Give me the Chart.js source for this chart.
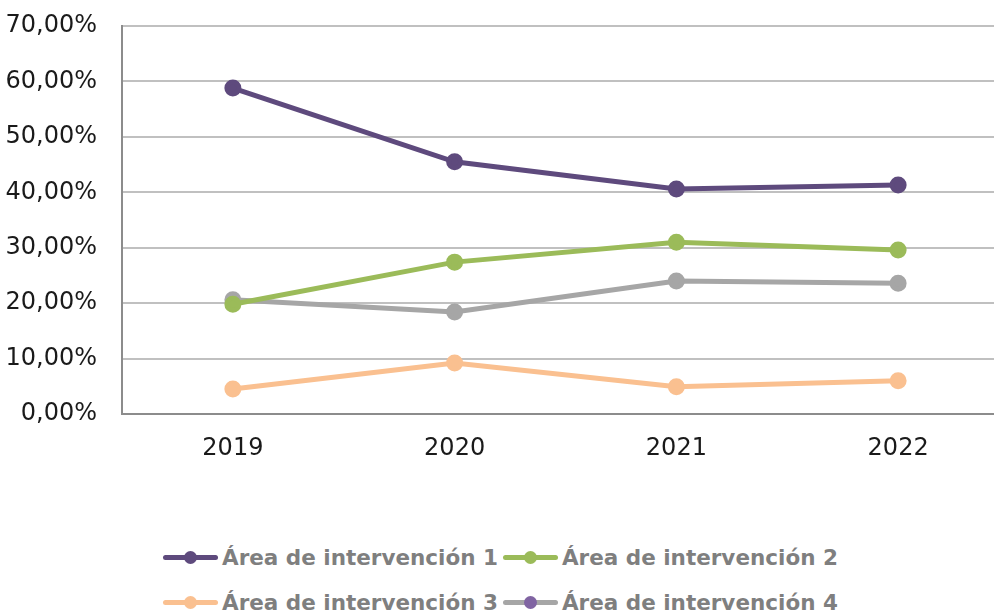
<!DOCTYPE html>
<html>
<head>
<meta charset="utf-8">
<script src="https://cdn.jsdelivr.net/npm/chart.js@4.4.0/dist/chart.umd.min.js"></script>
<style>
  html, body { margin: 0; padding: 0; background: #fff; overflow: hidden; width: 994px; height: 614px; }
  #wrap { position: absolute; left: 0; top: 0; width: 1020px; height: 470px; }
  #legend { position: absolute; left: 163px; top: 535px; width: 720px; display: flex; flex-wrap: wrap;
    font-family: "DejaVu Sans", sans-serif; font-weight: bold; font-size: 21.5px; color: #7f7f7f; }
  .item { display: flex; align-items: center; height: 45px; margin-right: 5px; white-space: nowrap; }
  .sw { position: relative; width: 55px; height: 13px; margin-right: 4px; }
  .sw .ln { position: absolute; left: 0; right: 0; top: 4px; height: 5px; border-radius: 3px; }
  .sw .dt { position: absolute; left: 21px; top: 0; width: 13px; height: 13px; border-radius: 50%; }
</style>
</head>
<body>
<div id="wrap"><canvas id="lineChart" width="1020" height="470"></canvas></div>
<div id="legend"></div>
<script>
var years = ["2019", "2020", "2021", "2022"];
var seriesNames = ["Área de intervención 1", "Área de intervención 2", "Área de intervención 3", "Área de intervención 4"];
var area1 = [58.8, 45.5, 40.6, 41.3];
var area2 = [19.8, 27.4, 31.0, 29.6];
var area3 = [4.5, 9.2, 4.9, 6.0];
var area4 = [20.6, 18.4, 24.0, 23.6];
var yTicks = [0, 10, 20, 30, 40, 50, 60, 70];

var lineColors = ["#5e4a7d", "#9bbb59", "#fac090", "#a6a6a6"];
var legendDotColors = ["#5e4a7d", "#9bbb59", "#fac090", "#8064a2"];

var allSeries = [area1, area2, area3, area4];
var datasets = [];
for (var i = 0; i < allSeries.length; i++) {
	datasets.push({
		label : seriesNames[i],
		data : allSeries[i],
		borderColor : lineColors[i],
		backgroundColor : lineColors[i],
		pointBackgroundColor : lineColors[i],
		pointBorderColor : lineColors[i],
		borderWidth : 5,
		pointRadius : 6,
		tension : 0,
		fill : false
	});
}
// draw area 1 on top
datasets[0].order = -1;

function fmtPct(v) {
	return v.toFixed(2).replace(".", ",") + "%";
}

new Chart(document.getElementById("lineChart"), {
	type : "line",
	data : { labels : years, datasets : datasets },
	options : {
		responsive : false,
		animation : false,
		layout : { padding : { top : 26, right : 2, left : 0, bottom : 0 } },
		plugins : { legend : { display : false }, tooltip : { enabled : false } },
		scales : {
			x : {
				offset : true,
				grid : { display : false, drawTicks : false },
				border : { color : "#8c8c8c", width : 2 },
				ticks : { color : "#1a1a1a", padding : 20, font : { family : "DejaVu Sans", size : 24 } },
				afterFit : function(scale) {
					scale.height = 56;
					scale.paddingLeft = 0;
					scale.paddingRight = 0;
				}
			},
			y : {
				min : 0,
				max : 70,
				afterBuildTicks : function(scale) {
					scale.ticks = yTicks.map(function(v) { return { value : v }; });
				},
				grid : { color : "#c0c0c0", lineWidth : 2, drawTicks : false },
				border : { color : "#8c8c8c", width : 2 },
				ticks : {
					color : "#1a1a1a",
					padding : 25,
					font : { family : "DejaVu Sans", size : 24 },
					callback : function(v) { return fmtPct(v); }
				},
				afterFit : function(scale) {
					scale.width = 122;
					scale.paddingTop = 0;
					scale.paddingBottom = 0;
				}
			}
		}
	}
});

// legend built from the same series arrays
var legend = document.getElementById("legend");
for (var j = 0; j < seriesNames.length; j++) {
	var item = document.createElement("div");
	item.className = "item";
	item.innerHTML = '<div class="sw"><div class="ln" style="background:' + lineColors[j] + '"></div>'
		+ '<div class="dt" style="background:' + legendDotColors[j] + '"></div></div>'
		+ '<span>' + seriesNames[j] + '</span>';
	legend.appendChild(item);
}
</script>
</body>
</html>
